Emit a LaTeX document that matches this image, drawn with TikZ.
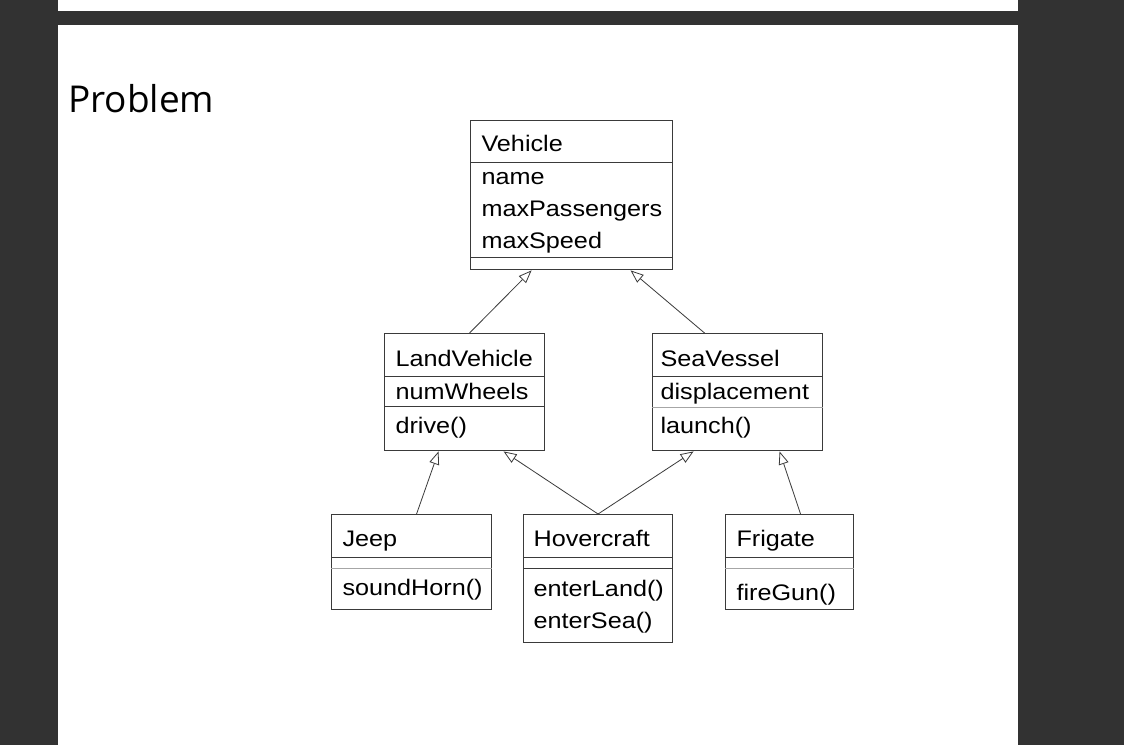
\documentclass[tikz,border=0pt]{standalone}
\usepackage{xcolor}
\usepackage{fontspec}
\usepackage{tikz}
\usetikzlibrary{shapes.multipart, arrows.meta}

\newfontfamily\titlefont{Open Sans}
\newfontfamily\umlfont{Liberation Sans}[FakeStretch=1.12]
% strut: height above / depth below the baseline
\newcommand{\sz}[2]{\rule[-#2pt]{0pt}{\dimexpr#1pt+#2pt\relax}}
\definecolor{slate}{HTML}{323232}
\definecolor{ink}{HTML}{3A3A3A}

\tikzset{
  umlclass/.style={rectangle split, rectangle split parts=3, draw=ink, line width=1.1pt,
    anchor=north west, inner xsep=11pt, inner ysep=0pt, align=left,
    font=\umlfont\fontsize{22.5}{32}\selectfont, text=black},
  inherit/.style={draw=ink, line width=0.8pt, -{Triangle[open, length=13pt, width=10pt, fill=white]}},
  faint/.style={draw=black!35, line width=1.3pt}
}

\begin{document}
\begin{tikzpicture}[x=1pt, y=-1pt]
            % page
            \fill[slate] (0,0) rectangle (1124,745);
            \fill[white] (58,0) rectangle (1018,11);
            \fill[white] (58,25) rectangle (1018,745);
            \node[anchor=base west, inner sep=0pt, font=\titlefont\fontsize{37}{40}\selectfont] (title) at (68,112) {Problem};
            % classes
            \node[umlclass, text width=180pt] (veh) at (470,120)
                {\sz{30}{11}Vehicle
                 \nodepart{two}\sz{21}{0}name\\maxPassengers\\\sz{0}{9}maxSpeed
                 \nodepart{three}\sz{11}{0}};
            \node[umlclass, text width=138pt] (land) at (384,333)
                {\sz{32}{10}LandVehicle
                 \nodepart{two}\sz{22}{7}numWheels
                 \nodepart{three}\sz{26}{17}drive()};
            \node[umlclass, text width=154pt, inner xsep=8pt] (sea) at (652,333)
                {\sz{32}{10}SeaVessel
                 \nodepart{two}\sz{22}{8}displacement
                 \nodepart{three}\sz{25}{17}launch()};
            \node[umlclass, text width=138pt] (jeep) at (331,514)
                {\sz{31}{11}Jeep
                 \nodepart{two}\sz{10}{0}
                 \nodepart{three}\sz{26}{14}soundHorn()};
            \node[umlclass, text width=129pt, inner xsep=10pt] (hover) at (523,514)
                {\sz{31}{11}Hovercraft
                 \nodepart{two}\sz{10}{0}
                 \nodepart{three}\sz{27}{0}enterLand()\\\sz{0}{14}enterSea()};
            \node[umlclass, text width=106pt] (frig) at (725,514)
                {\sz{31}{11}Frigate
                 \nodepart{two}\sz{10}{0}
                 \nodepart{three}\sz{31}{9}fireGun()};
            \draw[faint] (sea.two split west) -- (sea.two split east);
            \draw[faint] (jeep.two split west) -- (jeep.two split east);
            \draw[faint] (frig.two split west) -- (frig.two split east);
            % generalisation
            \draw[inherit] ([xshift=5pt]land.north) -- ([xshift=-40pt]veh.south);
            \draw[inherit] ([xshift=-33pt]sea.north) -- ([xshift=59pt]veh.south);
            \draw[inherit] ([xshift=5pt]jeep.north) -- ([xshift=-26pt]land.south);
            \draw[inherit] (hover.north) -- ([xshift=39pt]land.south);
            \draw[inherit] (hover.north) -- ([xshift=-44pt]sea.south);
            \draw[inherit] ([xshift=11pt]frig.north) -- ([xshift=42pt]sea.south);
        \end{tikzpicture}
\end{document}
